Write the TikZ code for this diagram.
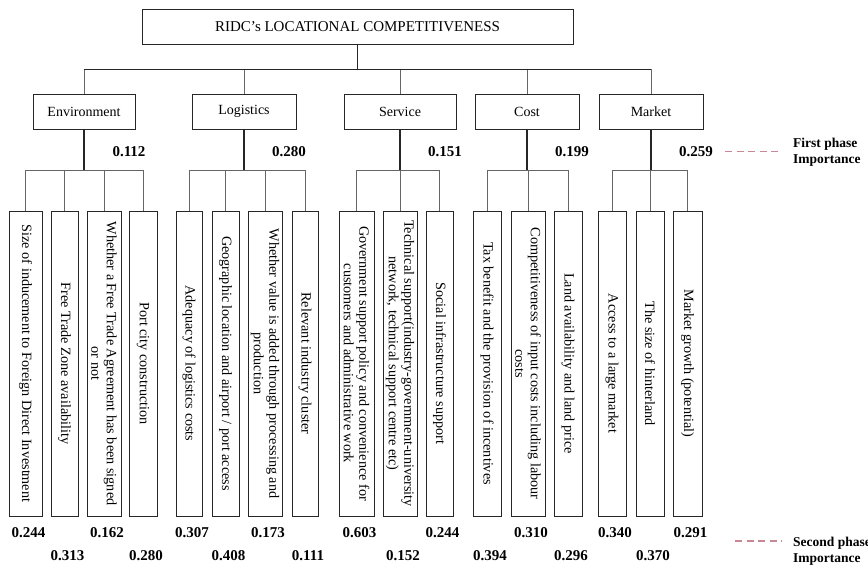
\documentclass[tikz,border=0pt]{standalone}
\usepackage{fontspec}
\setmainfont{Liberation Serif}
\usepackage{tikz}
\usetikzlibrary{positioning}
\definecolor{legendrose}{RGB}{200,135,148}

\begin{document}
\begin{tikzpicture}[x=1pt, y=-1pt,
	boite/.style={draw=black!85, line width=0.8pt, inner sep=0pt, minimum height=35pt, font=\fontsize{14}{16}\selectfont},
	critere/.style={draw=black!85, line width=0.8pt, inner sep=0pt, rotate=-90, minimum width=305pt, align=center, font=\fontsize{14.2}{15.5}\selectfont},
	tronc/.style={line width=1.3pt, black!85},
	branche/.style={line width=0.9pt, black!60},
	poids/.style={inner sep=0pt, font=\fontsize{15}{17}\selectfont\bfseries},
	legende/.style={inner sep=0pt, anchor=west, align=left, font=\fontsize{13.5}{16}\selectfont\bfseries},
	pointille/.style={legendrose, line width=1.2pt, dash pattern=on 7pt off 4.5pt}]

	\useasboundingbox (0,0) rectangle (868,566);

	% Objectif
	\node[boite, minimum width=431pt, font=\fontsize{15}{17}\selectfont] (ridc) at (357.5,26.5) {RIDC's LOCATIONAL COMPETITIVENESS};
	\draw[tronc] (ridc.south) -- ++(0,25) coordinate (ridc-j);

	% Critères (première phase)
	\foreach \nom/\x/\w/\txt in {env/84/102/Environment, log/244/104/Logistics, ser/400/112/Service, cout/527/104/Cost, mkt/651/104/Market} {
		\node[boite, minimum width=\w pt] (\nom) at (\x,111.5) {\txt};
		\draw[branche] (ridc-j -| \nom.north) -- (\nom.north);
		\draw[tronc] (\nom.south) -- ++(0,41) coordinate (\nom-j);
	}
	\draw[tronc] (ridc-j -| env.north) -- (ridc-j -| mkt.north);
	\foreach \nom/\v in {env/0.112, log/0.280, ser/0.151, cout/0.199, mkt/0.259}
		\node[poids] (w-\nom) at ([xshift=45pt,yshift=-22pt]\nom.south) {\v};

	% Sous-critères (seconde phase)
	\foreach \nom/\cat/\x/\w/\v/\r/\txt in {
		f1/env/25.5/33/0.244/533/{Size of inducement to Foreign Direct Investment},
		f2/env/64.5/27/0.313/556/{Free Trade Zone availability},
		f3/env/104/34/0.162/533/{Whether a Free Trade Agreement has been signed\\or not},
		f4/env/143/28/0.280/556/{Port city construction},
		f5/log/189/26/0.307/533/{Adequacy of logistics costs},
		f6/log/225.5/27/0.408/556/{Geographic location and airport / port access},
		f7/log/265/34/0.173/533/{Whether value is added through processing and\\production},
		f8/log/305/26/0.111/556/{Relevant industry cluster},
		f9/ser/356.5/35/0.603/533/{Government support policy and convenience for\\customers and administrative work},
		f10/ser/400/34/0.152/556/{Technical support(industry-government-university\\network, technical support centre etc)},
		f11/ser/439.5/27/0.244/533/{Social infrastructure support},
		f12/cout/487/28/0.394/556/{Tax benefit and the provision of incentives},
		f13/cout/528/34/0.310/533/{Competitiveness of input costs including labour\\costs},
		f14/cout/568/28/0.296/556/{Land availability and land price},
		f15/mkt/612/28/0.340/533/{Access to a large market},
		f16/mkt/650/28/0.370/556/{The size of hinterland},
		f17/mkt/687.5/29/0.291/533/{Market growth (potential)}} {
		\node[critere, minimum height=\w pt] (\nom) at (\x,363.5) {\txt};
		\draw[branche] (\cat-j) -| (\nom.west);
		\node[poids] (p-\nom) at (\x+3,\r) {\v};
	}

	% Légende
	\node[legende] (leg1) at (793,152) {First phase\\Importance};
	\draw[pointille, shorten <=12pt, shorten >=11pt] (w-mkt.east) -- (w-mkt.east -| leg1.west);
	\node[legende] (leg2) at (793,551) {Second phase\\Importance};
	\coordinate (d2) at (735,541);
	\draw[pointille, shorten >=11pt] (d2) -- (d2 -| leg2.west);
\end{tikzpicture}
\end{document}
